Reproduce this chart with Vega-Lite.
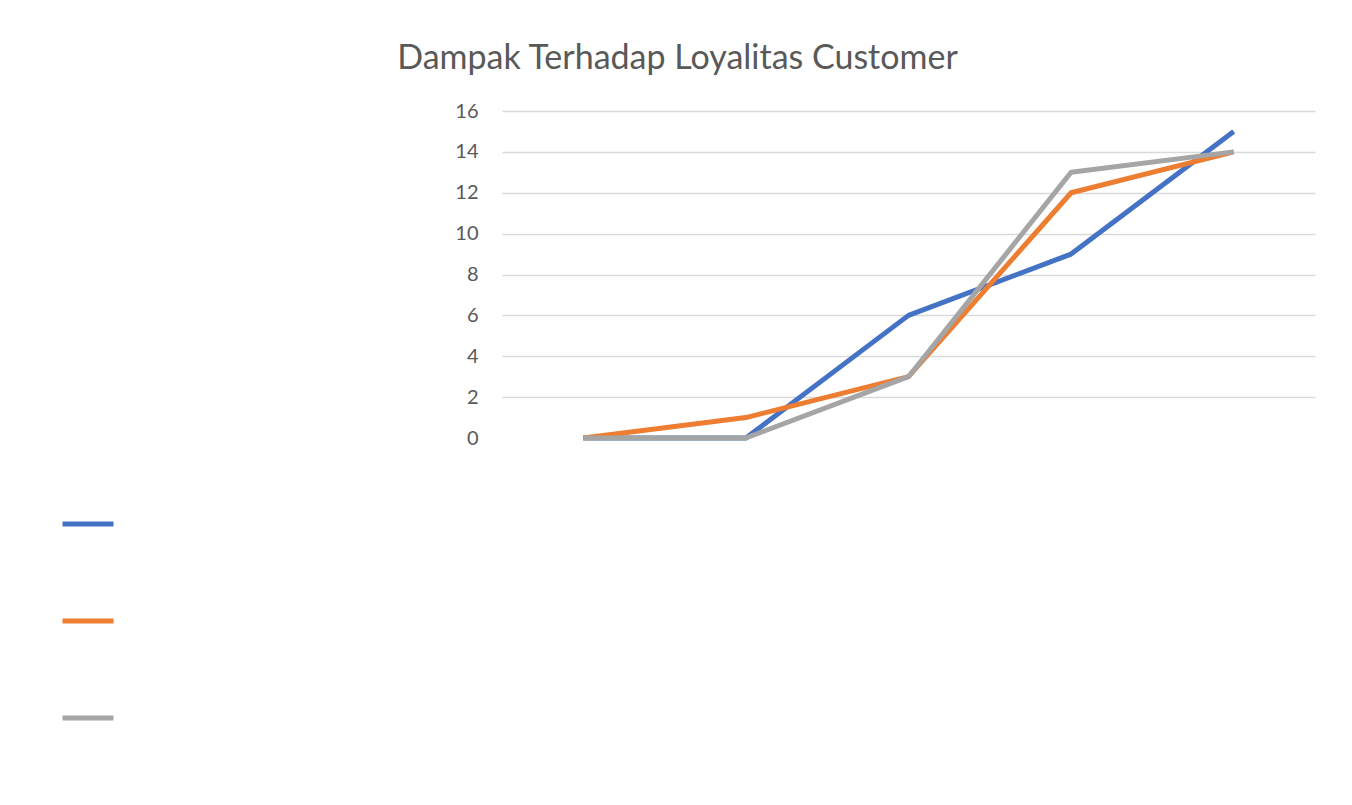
{
  "$schema": "https://vega.github.io/schema/vega-lite/v6.json",
  "autosize": "none",
  "width": 813,
  "height": 327,
  "padding": {"left": 502, "top": 111, "right": 37, "bottom": 367},
  "background": "white",
  "view": {"stroke": null},
  "title": {
    "text": "Dampak Terhadap Loyalitas Customer",
    "font": "Lato",
    "fontSize": 34,
    "fontWeight": "normal",
    "color": "#595959",
    "anchor": "middle",
    "dx": -231,
    "offset": 25
  },
  "data": {
    "values": [
      {"kategori": "1", "seri": "Seri 1", "nilai": 0},
      {"kategori": "2", "seri": "Seri 1", "nilai": 0},
      {"kategori": "3", "seri": "Seri 1", "nilai": 6},
      {"kategori": "4", "seri": "Seri 1", "nilai": 9},
      {"kategori": "5", "seri": "Seri 1", "nilai": 15},
      {"kategori": "1", "seri": "Seri 2", "nilai": 0},
      {"kategori": "2", "seri": "Seri 2", "nilai": 1},
      {"kategori": "3", "seri": "Seri 2", "nilai": 3},
      {"kategori": "4", "seri": "Seri 2", "nilai": 12},
      {"kategori": "5", "seri": "Seri 2", "nilai": 14},
      {"kategori": "1", "seri": "Seri 3", "nilai": 0},
      {"kategori": "2", "seri": "Seri 3", "nilai": 0},
      {"kategori": "3", "seri": "Seri 3", "nilai": 3},
      {"kategori": "4", "seri": "Seri 3", "nilai": 13},
      {"kategori": "5", "seri": "Seri 3", "nilai": 14}
    ]
  },
  "mark": {"type": "line", "strokeWidth": 5, "strokeJoin": "round", "strokeCap": "butt"},
  "encoding": {
    "x": {
      "field": "kategori",
      "type": "ordinal",
      "scale": {"type": "point", "padding": 0.5},
      "axis": {"labels": false, "ticks": false, "domain": false, "grid": false, "title": null}
    },
    "y": {
      "field": "nilai",
      "type": "quantitative",
      "scale": {"domain": [0, 16], "nice": false},
      "axis": {
        "values": [0, 2, 4, 6, 8, 10, 12, 14, 16],
        "title": null,
        "domain": false,
        "ticks": false,
        "labelPadding": 24,
        "labelFont": "Lato",
        "labelFontSize": 20,
        "labelColor": "#595959",
        "gridColor": "#d9d9d9",
        "gridWidth": 1.5,
        "gridOpacity": {"condition": {"test": "datum.value === 0", "value": 0}, "value": 1}
      }
    },
    "color": {
      "field": "seri",
      "type": "nominal",
      "scale": {"domain": ["Seri 1", "Seri 2", "Seri 3"], "range": ["#4472C4", "#ED7D31", "#A5A5A5"]},
      "legend": {
        "orient": "none",
        "legendX": -442,
        "legendY": 385,
        "title": null,
        "symbolType": "stroke",
        "symbolSize": 2601,
        "symbolStrokeWidth": 5,
        "labelExpr": "''",
        "rowPadding": 59,
        "labelFontSize": 1
      }
    }
  }
}
